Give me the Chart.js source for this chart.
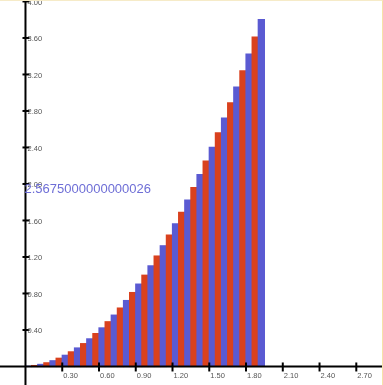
<!DOCTYPE html>
<html>
<head>
<meta charset="utf-8">
<script src="https://cdn.jsdelivr.net/npm/chart.js@4/dist/chart.umd.min.js"></script>
<style>
  html, body { margin: 0; padding: 0; background: #fff; }
  #wrap { position: relative; width: 383px; height: 385px; }
  #frame { position: absolute; left: 0; top: 0; width: 382px; height: 384px;
           border-top: 1px solid #f6ebc8; border-right: 1px solid #f6e3a8; pointer-events: none; }
</style>
</head>
<body>
<div id="wrap">
  <canvas id="riemann" width="383" height="385"></canvas>
  <div id="frame"></div>
</div>
<script>
//======================================
// Data (right endpoints, heights)
//======================================

const xRight = [0.05, 0.10, 0.15, 0.20, 0.25, 0.30, 0.35, 0.40, 0.45, 0.50,
                0.55, 0.60, 0.65, 0.70, 0.75, 0.80, 0.85, 0.90, 0.95, 1.00,
                1.05, 1.10, 1.15, 1.20, 1.25, 1.30, 1.35, 1.40, 1.45, 1.50,
                1.55, 1.60, 1.65, 1.70, 1.75, 1.80, 1.85, 1.90, 1.95];

const heights = [0.0025, 0.01, 0.0225, 0.04, 0.0625, 0.09, 0.1225, 0.16, 0.2025, 0.25,
                 0.3025, 0.36, 0.4225, 0.49, 0.5625, 0.64, 0.7225, 0.81, 0.9025, 1.00,
                 1.1025, 1.21, 1.3225, 1.44, 1.5625, 1.69, 1.8225, 1.96, 2.1025, 2.25,
                 2.4025, 2.56, 2.7225, 2.89, 3.0625, 3.24, 3.4225, 3.61, 3.8025];

const barWidth = 0.05;

const xTicks = [0.30, 0.60, 0.90, 1.20, 1.50, 1.80, 2.10, 2.40, 2.70];
const yTicks = [0.40, 0.80, 1.20, 1.60, 2.00, 2.40, 2.80, 3.20, 3.60, 4.00];

const sumLabel = "2.5675000000000026";

const blue = "#5a5ad2";
const red = "#d9411e";


//======================================
// Axes drawn through the scales
//======================================

const crossAxes = {
    id: "crossAxes",
    afterDatasetsDraw(chart){
        const ctx = chart.ctx;
        const xs = chart.scales.x;
        const ys = chart.scales.y;
        const ox = xs.getPixelForValue(0);
        const oy = ys.getPixelForValue(0);

        ctx.save();
        ctx.strokeStyle = "#000";
        ctx.lineWidth = 2;
        ctx.beginPath();
        ctx.moveTo(0, oy);
        ctx.lineTo(chart.width, oy);
        ctx.moveTo(ox, 0);
        ctx.lineTo(ox, chart.height);
        ctx.stroke();

        ctx.font = "7.5px 'Liberation Sans', Arial, sans-serif";
        ctx.fillStyle = "#555";

        xTicks.forEach(v => {
            const px = xs.getPixelForValue(v);
            ctx.beginPath();
            ctx.moveTo(px, oy - 4);
            ctx.lineTo(px, oy + 5);
            ctx.stroke();
            ctx.textAlign = "left";
            ctx.textBaseline = "top";
            ctx.fillText(v.toFixed(2), px + 1, oy + 6);
        });

        yTicks.forEach(v => {
            const py = ys.getPixelForValue(v);
            ctx.beginPath();
            ctx.moveTo(ox - 3, py);
            ctx.lineTo(ox + 4, py);
            ctx.stroke();
            ctx.textAlign = "left";
            ctx.textBaseline = "middle";
            ctx.fillText(v.toFixed(2), ox + 2, py + 1);
        });

        ctx.font = "13px 'Liberation Sans', Arial, sans-serif";
        ctx.fillStyle = "#6e6ed6";
        ctx.textAlign = "left";
        ctx.textBaseline = "alphabetic";
        ctx.fillText(sumLabel, ox - 1, ys.getPixelForValue(1.9));
        ctx.restore();
    }
};


//======================================
// Chart
//======================================

const points = xRight.map((x, i) => ({ x: x - barWidth / 2, y: heights[i] }));
const colors = xRight.map((x, i) => (i % 2 === 0 ? blue : red));

new Chart(document.getElementById("riemann"), {

    type: "bar",

    data: {
        datasets: [{
            data: points,
            backgroundColor: colors,
            borderWidth: 0,
            inflateAmount: 0.6,
            barPercentage: 1,
            categoryPercentage: 1,
            grouped: false
        }]
    },

    options: {
        responsive: false,
        animation: false,
        layout: { padding: 0 },
        plugins: {
            legend: { display: false },
            tooltip: { enabled: false }
        },
        scales: {
            x: {
                type: "linear",
                min: -0.208,
                max: 2.918,
                offset: false,
                display: false
            },
            y: {
                min: -0.203,
                max: 4.016,
                display: false
            }
        }
    },

    plugins: [crossAxes]

});
</script>
</body>
</html>
